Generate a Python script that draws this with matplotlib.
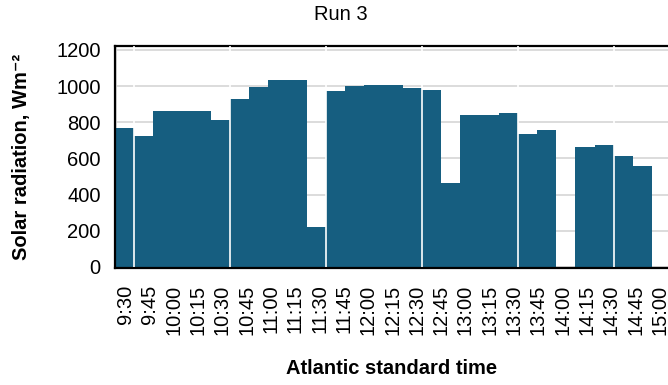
import numpy as np
import matplotlib
matplotlib.use("Agg")
import matplotlib.pyplot as plt

plt.rcParams['font.family'] = ['Liberation Sans', 'DejaVu Sans']

# Solar radiation readings (W m^-2), one bar per reading
radiation = [766, 723, 860, 860, 860, 810, 927, 997, 1032, 1032,
             220, 975, 1003, 1008, 1008, 992, 981, 465, 838, 838,
             854, 733, 760, 0, 661, 672, 612, 556, 0]

time_labels = ["9:30", "9:45", "10:00", "10:15", "10:30", "10:45", "11:00",
               "11:15", "11:30", "11:45", "12:00", "12:15", "12:30", "12:45",
               "13:00", "13:15", "13:30", "13:45", "14:00", "14:15", "14:30",
               "14:45", "15:00"]

y_ticks = [0, 200, 400, 600, 800, 1000, 1200]

bar_color = '#165e80'
grid_color = '#d9d9d9'
fs = 14.5

fig = plt.figure(figsize=(6.68, 3.85), dpi=100)
ax = fig.add_axes([114.5 / 668, 1 - 268 / 385, 557 / 668, 222 / 385])

x = np.arange(len(radiation))
ax.bar(x, radiation, width=1.0, color=bar_color, linewidth=0, zorder=2)

# white separators every five readings
seps = np.arange(0.5, len(radiation) - 1, 5)
ax.vlines(seps, 0, 1300, colors='white', linewidth=1.2, zorder=3)

ax.set_xlim(-0.5, len(radiation) - 0.5)
ax.set_ylim(-6, 1222)
ax.set_yticks(y_ticks)
ax.set_yticklabels([str(v) for v in y_ticks], fontsize=fs)
ax.yaxis.grid(True, color=grid_color, linewidth=1.3, zorder=0)
ax.set_axisbelow(True)
ax.axvline(-0.4, color=grid_color, linewidth=1.3, zorder=1)

tick_pos = np.linspace(0.05, len(radiation) - 1.1, len(time_labels))
ax.set_xticks(tick_pos)
ax.set_xticklabels(time_labels, rotation=90, fontsize=fs)
ax.tick_params(axis='both', length=0)
ax.tick_params(axis='y', pad=10)
ax.tick_params(axis='x', pad=12)

for side in ['left', 'top', 'bottom']:
    ax.spines[side].set_linewidth(1.6)
    ax.spines[side].set_color('black')
ax.spines['right'].set_visible(False)

fig.text(22 / 668, 1 - 157 / 385, 'Solar radiation, Wm\u207b\u00b2', fontsize=fs,
         fontweight='bold', rotation=90, ha='center', va='center')
fig.text(392 / 668, 1 - 368 / 385, 'Atlantic standard time', fontsize=fs,
         fontweight='bold', ha='center', va='center')
fig.text(341 / 668, 1 - 14 / 385, 'Run 3', fontsize=fs,
         ha='center', va='center')

fig.savefig('out.png', dpi=100)
